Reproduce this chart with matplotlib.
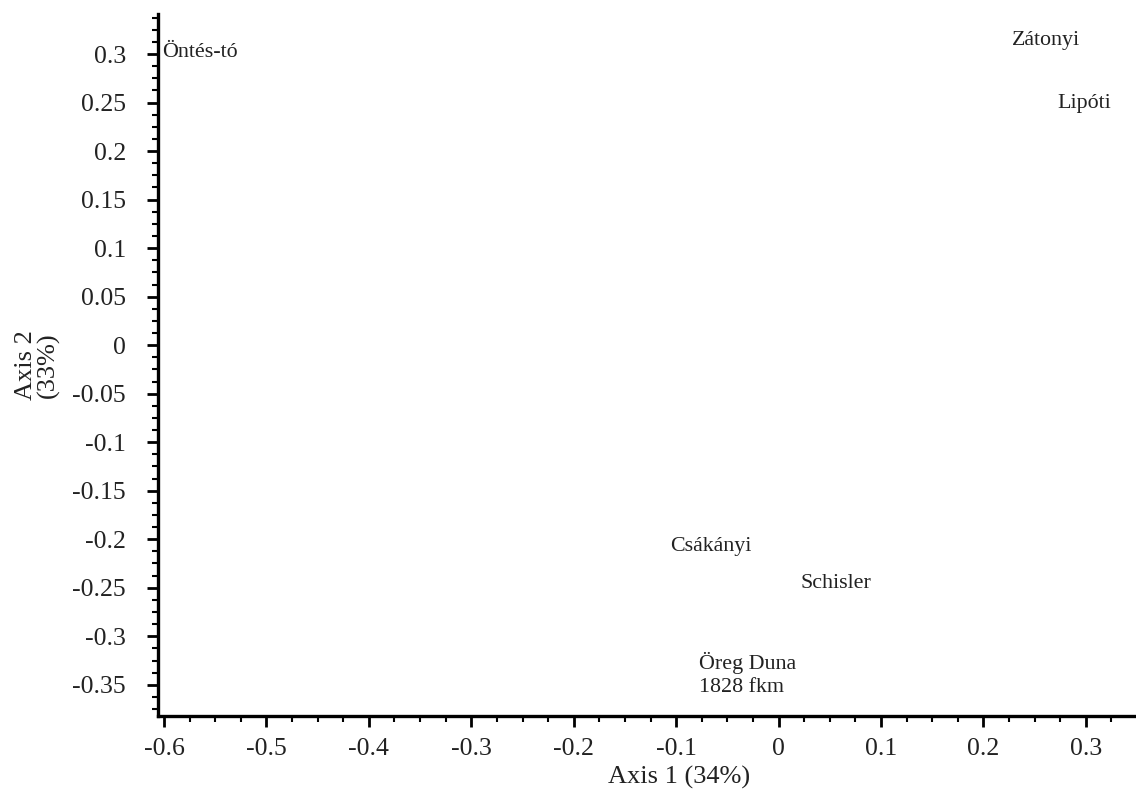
import matplotlib
matplotlib.use("Agg")
import matplotlib.pyplot as plt
from matplotlib.ticker import MultipleLocator

# site labels and their ordination scores (axis 1, axis 2)
sites = ["Öntés-tó", "Zátonyi", "Lipóti", "Csákányi", "Schisler", "Öreg Duna\n1828 fkm"]
axis1 = [-0.602, 0.228, 0.272, -0.106, 0.021, -0.078]
axis2 = [0.302, 0.314, 0.249, -0.207, -0.246, -0.339]

plt.rcParams['font.family'] = ['Liberation Serif', 'DejaVu Serif']

fig = plt.figure(figsize=(11.36, 7.91), dpi=100)
ax = fig.add_axes([0.139, 0.095, 0.861, 0.887])

for name, x, y in zip(sites, axis1, axis2):
    ax.text(x, y, name, ha='left', va='center', fontsize=15.8, color='#222222',
            linespacing=1.3)

ax.set_xlim(-0.606, 0.349)
ax.set_ylim(-0.382, 0.341)

ax.xaxis.set_major_locator(MultipleLocator(0.1))
ax.xaxis.set_minor_locator(MultipleLocator(0.025))
ax.yaxis.set_major_locator(MultipleLocator(0.05))
ax.yaxis.set_minor_locator(MultipleLocator(0.0125))

def fmt(v):
    s = f"{v:.2f}".rstrip('0').rstrip('.')
    if s in ("-0", "0."):
        s = "0"
    return s

xt = [-0.6, -0.5, -0.4, -0.3, -0.2, -0.1, 0, 0.1, 0.2, 0.3]
yt = [0.3, 0.25, 0.2, 0.15, 0.1, 0.05, 0, -0.05, -0.1, -0.15, -0.2, -0.25, -0.3, -0.35]
ax.set_xticks(xt)
ax.set_xticklabels([fmt(v) for v in xt])
ax.set_yticks(yt)
ax.set_yticklabels([fmt(v) for v in yt])

for side in ['top', 'right']:
    ax.spines[side].set_visible(False)
for side in ['left', 'bottom']:
    ax.spines[side].set_linewidth(2.4)
    ax.spines[side].set_color('black')

ax.tick_params(which='major', direction='out', length=8, width=2,
               colors='black', labelcolor='#222222', labelsize=18.5)
ax.tick_params(axis='x', which='major', pad=8)
ax.tick_params(axis='y', which='major', pad=15)
ax.tick_params(which='minor', direction='out', length=4.5, width=1.5, colors='black')

ax.set_xlabel("Axis 1 (34%)", fontsize=19, color='#222222')
ax.xaxis.set_label_coords((679 - 158) / 978, -0.072)
ax.set_ylabel("Axis 2\n(33%)", fontsize=19, color='#222222', linespacing=1.0)
ax.yaxis.set_label_coords(-0.1, 0.5)

fig.savefig("out.png", dpi=100)
